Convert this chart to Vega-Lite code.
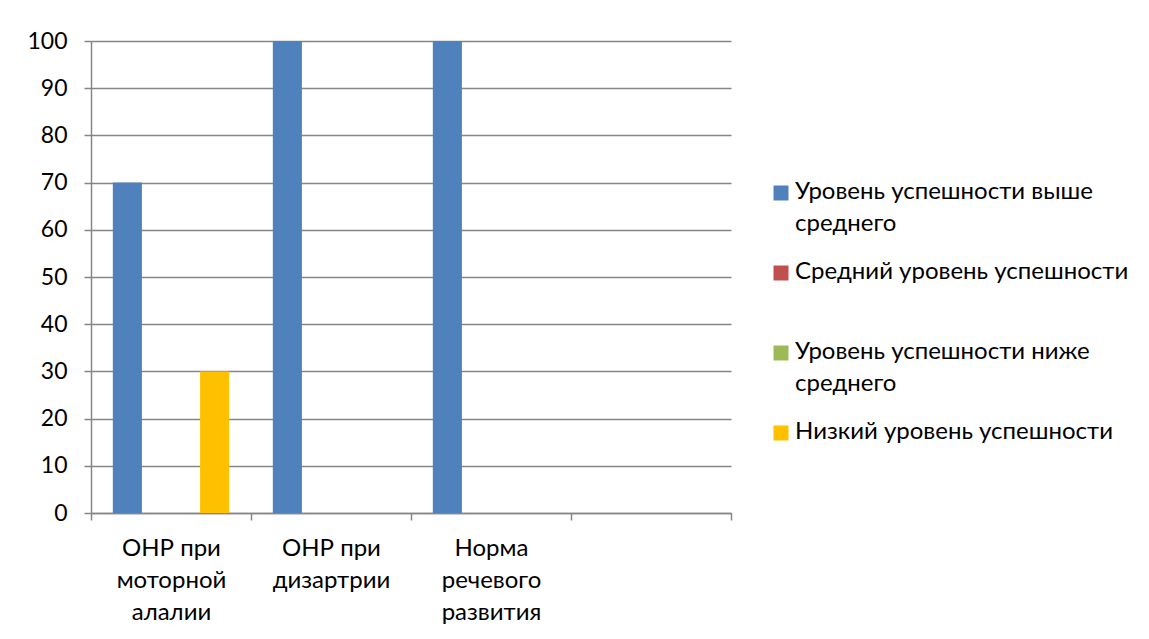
{
  "$schema": "https://vega.github.io/schema/vega-lite/v6.json",
  "width": 640,
  "height": 472,
  "autosize": {"type": "none"},
  "padding": {"left": 91, "top": 41, "right": 418, "bottom": 126},
  "background": "white",
  "config": {
    "font": "Lato",
    "view": {"stroke": null},
    "axis": {"labelFont": "Lato", "labelColor": "#000000", "labelFontSize": 23}
  },
  "data": {
    "values": [
      {"group": "ОНР при моторной алалии", "level": "Уровень успешности выше среднего", "value": 70},
      {"group": "ОНР при моторной алалии", "level": "Средний уровень успешности", "value": 0},
      {"group": "ОНР при моторной алалии", "level": "Уровень успешности ниже среднего", "value": 0},
      {"group": "ОНР при моторной алалии", "level": "Низкий уровень успешности", "value": 30},
      {"group": "ОНР при дизартрии", "level": "Уровень успешности выше среднего", "value": 100},
      {"group": "ОНР при дизартрии", "level": "Средний уровень успешности", "value": 0},
      {"group": "ОНР при дизартрии", "level": "Уровень успешности ниже среднего", "value": 0},
      {"group": "ОНР при дизартрии", "level": "Низкий уровень успешности", "value": 0},
      {"group": "Норма речевого развития", "level": "Уровень успешности выше среднего", "value": 100},
      {"group": "Норма речевого развития", "level": "Средний уровень успешности", "value": 0},
      {"group": "Норма речевого развития", "level": "Уровень успешности ниже среднего", "value": 0},
      {"group": "Норма речевого развития", "level": "Низкий уровень успешности", "value": 0}
    ]
  },
  "mark": {"type": "bar"},
  "encoding": {
    "x": {
      "field": "group",
      "type": "nominal",
      "sort": null,
      "scale": {
        "domain": ["ОНР при моторной алалии", "ОНР при дизартрии", "Норма речевого развития", ""],
        "paddingInner": 0,
        "paddingOuter": 0
      },
      "axis": {
        "title": null,
        "labelAngle": 0,
        "labelFontSize": 24,
        "tickBand": "extent",
        "domainColor": "#868686",
        "domainWidth": 1.5,
        "tickColor": "#868686",
        "tickWidth": 1.5,
        "tickSize": 7,
        "labelPadding": 16,
        "labelLineHeight": 32,
        "labelBaseline": "top",
        "labelLimit": 300,
        "labelExpr": "datum.label == 'ОНР при моторной алалии' ? ['ОНР при', 'моторной', 'алалии'] : datum.label == 'ОНР при дизартрии' ? ['ОНР при', 'дизартрии'] : datum.label == 'Норма речевого развития' ? ['Норма', 'речевого', 'развития'] : ''"
      }
    },
    "xOffset": {
      "field": "level",
      "type": "nominal",
      "sort": null,
      "scale": {
        "domain": ["Уровень успешности выше среднего", "Средний уровень успешности", "Уровень успешности ниже среднего", "Низкий уровень успешности"],
        "paddingInner": 0,
        "paddingOuter": 0.75
      }
    },
    "y": {
      "field": "value",
      "type": "quantitative",
      "scale": {"domain": [0, 100], "nice": false},
      "axis": {
        "title": null,
        "values": [0, 10, 20, 30, 40, 50, 60, 70, 80, 90, 100],
        "grid": true,
        "gridColor": "#868686",
        "gridWidth": 1.5,
        "domainColor": "#868686",
        "domainWidth": 1.5,
        "tickColor": "#868686",
        "tickWidth": 1.5,
        "tickSize": 7,
        "labelPadding": 17,
        "labelBaseline": "middle"
      }
    },
    "color": {
      "field": "level",
      "type": "nominal",
      "sort": null,
      "scale": {
        "domain": ["Уровень успешности выше среднего", "Средний уровень успешности", "Уровень успешности ниже среднего", "Низкий уровень успешности"],
        "range": ["#4F81BD", "#C0504D", "#9BBB59", "#FFC000"]
      },
      "legend": {
        "title": null,
        "orient": "none",
        "legendX": 678,
        "legendY": 140,
        "symbolType": "square",
        "symbolSize": 225,
        "symbolStrokeWidth": 0,
        "symbolOpacity": 1,
        "labelFont": "Lato",
        "labelFontSize": 24,
        "labelColor": "#000000",
        "labelLimit": 400,
        "labelOffset": 2,
        "gridAlign": "all",
        "rowPadding": 24,
        "labelExpr": "indexof(datum.label, ' среднего') > 0 ? [replace(datum.label, ' среднего', ''), 'среднего'] : datum.label",
        "encode": {
          "labels": {
            "update": {
              "lineHeight": {"value": 32},
              "baseline": {"value": "top"},
              "dy": {"value": -13}
            }
          }
        }
      }
    }
  }
}
